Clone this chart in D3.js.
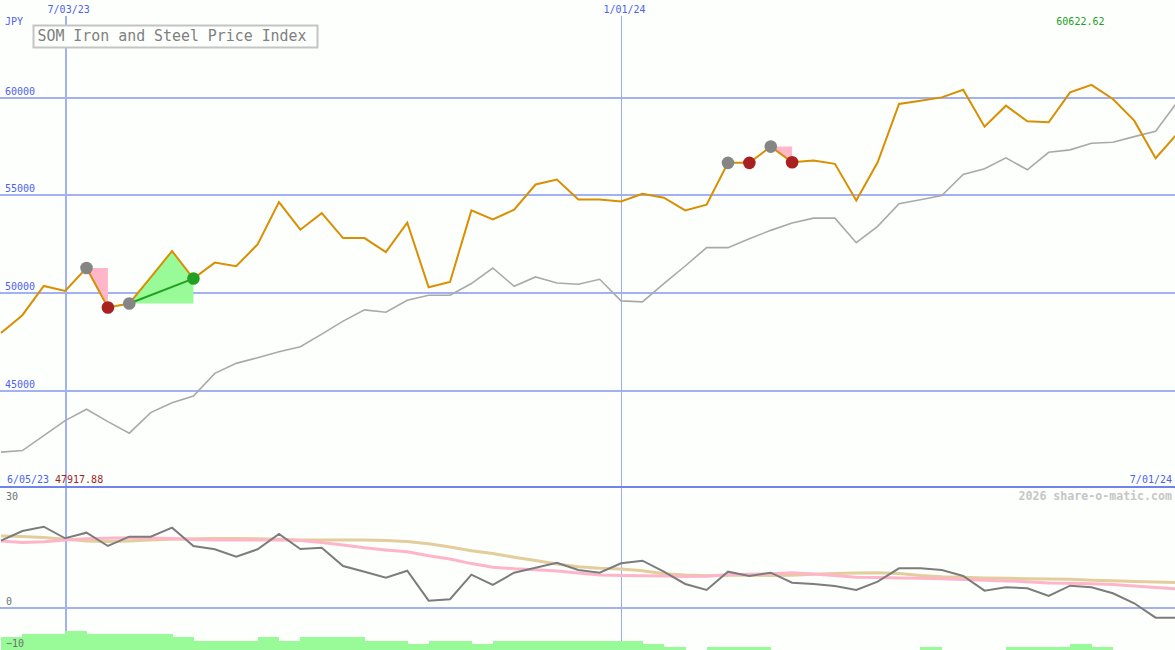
<!DOCTYPE html>
<html><head><meta charset="utf-8">
<script src="https://cdn.jsdelivr.net/npm/d3@7"></script>
<style>
html,body{margin:0;padding:0;background:#fcfffc;}
svg{display:block;}
text{font-family:"DejaVu Sans Mono",monospace;}
</style>
</head><body>
<svg id="c" width="1175" height="650"></svg>
<script>
// ---------- data ----------
const dates = [
 "2023-06-12","2023-06-19","2023-06-26","2023-07-03","2023-07-10","2023-07-17","2023-07-24","2023-07-31",
 "2023-08-07","2023-08-14","2023-08-21","2023-08-28","2023-09-04","2023-09-11","2023-09-18","2023-09-25",
 "2023-10-02","2023-10-09","2023-10-16","2023-10-23","2023-10-30","2023-11-06","2023-11-13","2023-11-20",
 "2023-11-27","2023-12-04","2023-12-11","2023-12-18","2023-12-25","2024-01-01","2024-01-08","2024-01-15",
 "2024-01-22","2024-01-29","2024-02-05","2024-02-12","2024-02-19","2024-02-26","2024-03-04","2024-03-11",
 "2024-03-18","2024-03-25","2024-04-01","2024-04-08","2024-04-15","2024-04-22","2024-04-29","2024-05-06",
 "2024-05-13","2024-05-20","2024-05-27","2024-06-03","2024-06-10","2024-06-17","2024-06-24","2024-07-01"];

const priceIndex = [47917.88,48830,50327,50072,51246,49224,49428,50771,52114,50705,51522,51333,52457,54617,53207,54055,
 52778,52778,52063,53565,50260,50531,54193,53733,54229,55521,55776,54755,54755,54653,55046,54842,54193,54484,
 56629,56629,57462,56660,56747,56578,54704,56660,59642,59811,59980,60373,58483,59556,58754,58703,60235,60622.62,
 59898,58790,56864,58110];

const movingAvg = [41818,41900,42666,43432,44014,43381,42789,43841,44351,44694,45853,46364,46650,46956,47211,47860,
 48524,49101,48984,49597,49852,49852,50449,51246,50312,50787,50480,50414,50669,49561,49510,50449,51348,52288,
 52288,52748,53172,53545,53800,53800,52543,53376,54535,54740,54959,56032,56323,56884,56272,57171,57293,57630,
 57681,57972,58243,59724];

const oscMain = [17.95,20.55,21.70,18.59,20.09,16.53,19.02,19.02,21.43,16.53,15.64,13.66,15.64,19.74,15.72,16.07,
 11.17,9.64,8.04,9.91,1.88,2.25,8.84,6.08,9.38,10.72,12.05,10.10,9.38,11.89,12.59,9.64,6.35,4.74,9.64,8.49,
 9.38,6.70,6.35,5.81,4.74,6.97,10.55,10.55,10.10,8.49,4.55,5.46,5.20,3.13,5.89,5.46,3.86,1.18,-2.68,-2.68];

const oscPink = [17.87,17.47,17.68,18.14,18.46,18.62,18.75,18.70,18.51,18.27,18.14,18.14,18.14,18.14,17.97,17.47,
 16.80,16.05,15.46,14.97,13.90,13.05,11.81,10.82,10.42,10.15,9.83,9.32,8.76,8.63,8.55,8.49,8.38,8.44,8.84,8.95,
 9.08,9.38,9.03,8.60,8.14,8.09,7.98,7.88,7.77,7.55,7.34,7.18,6.97,6.64,6.56,6.38,6.19,5.81,5.38,5.01];

const oscTan = [19.21,19.10,18.80,18.35,17.84,17.71,17.87,18.14,18.32,18.46,18.56,18.56,18.46,18.32,18.14,18.14,
 18.14,18.14,18.03,17.76,17.12,16.26,15.27,14.49,13.53,12.62,11.71,10.98,10.55,10.39,9.91,9.11,8.76,8.55,8.71,
 8.76,8.60,8.68,8.97,9.14,9.30,9.35,9.14,8.63,8.30,8.14,7.98,7.88,7.77,7.69,7.61,7.37,7.21,7.02,6.86,6.70];

const histBars = [4,5,5,6,5,5,5,5,4,3,3,3,4,3,4,4,4,3,3,2,3,3,2,3,3,3,3,3,3,3,2,1,0,1,1,1,0,0,0,0,0,0,0,1,0,0,0,1,1,1,2,1,0,0,0,0];

const priceTicks = [45000,50000,55000,60000];
const oscTicks = [30,0,-10];
const dateTicks = ["2023-07-03","2024-01-01"];
const dateTickLabels = ["7/03/23","1/01/24"];

const greyMarks = [4,6,34,36];
const redMarks = [5,35,37];
const greenMarks = [9];
const pinkFills = [[4,5],[36,37]];
const greenFills = [[6,9]];
const greenLinks = [[6,9]];

const titleText = "SOM Iron and Steel Price Index";
const currency = "JPY";
const startLabel = "6/05/23", endLabel = "7/01/24";
const minLabel = "47917.88", maxLabel = "60622.62";
const credit = "2026 share-o-matic.com";

// ---------- scales ----------
const parse = d3.timeParse("%Y-%m-%d");
const D = dates.map(parse);
const x = d3.scaleTime().domain([D[0], D[D.length-1]]).range([1, 1177]);
const y = d3.scaleLinear().domain([45000,60000]).range([390,97]);
const y2 = d3.scaleLinear().domain([-10,30]).range([645,495.7]);
const yb = d3.scaleLinear().domain([0,6]).range([650,631]);
const step = x(D[1]) - x(D[0]);

const svg = d3.select("#c");
svg.append("rect").attr("width",1175).attr("height",650).attr("fill","#fcfffc");

const gridCol = "#a3b1f2", blueTxt = "#4f62ec";

// horizontal price grid via axis
const gy = svg.append("g").call(d3.axisRight(y).tickValues(priceTicks).tickSize(1175).tickFormat(d3.format("d")));
gy.select(".domain").remove();
gy.selectAll("line").attr("stroke",gridCol).attr("stroke-width",2).attr("shape-rendering","crispEdges");
gy.selectAll("text").attr("x",5).attr("dy",null).attr("y",-3).attr("text-anchor","start")
  .attr("fill",blueTxt).style("font-size","10px").style("font-family","DejaVu Sans Mono");

// lower panel zero line (labels drawn later)
const g2 = svg.append("g").call(d3.axisRight(y2).tickValues(oscTicks).tickSize(1175).tickFormat(d3.format("d")));
g2.select(".domain").remove();
g2.selectAll("line").attr("stroke",d => d===0 ? gridCol : "none").attr("stroke-width",2).attr("shape-rendering","crispEdges");
g2.selectAll("text").remove();

// vertical date grid via axis
const gx = svg.append("g").attr("transform","translate(0,16)")
  .call(d3.axisTop(x).tickValues(dateTicks.map(parse)).tickSize(-634).tickFormat((d,i)=>dateTickLabels[i]));
gx.select(".domain").remove();
gx.selectAll("line").attr("stroke",(d,i)=> i===0 ? gridCol : "#9badf2").attr("stroke-width",(d,i)=> i===0 ? 2 : 1).attr("shape-rendering","crispEdges");
gx.selectAll("text").attr("y",-3).attr("dx",3).attr("fill",blueTxt).style("font-size","10px").style("font-family","DejaVu Sans Mono");

// histogram bars
svg.append("g").selectAll("rect").data(histBars).join("rect")
  .attr("x",(d,i)=>x(D[i])).attr("width",step+0.5)
  .attr("y",d=>yb(d)).attr("height",d=>yb(0)-yb(d))
  .attr("fill","#98fb98").attr("shape-rendering","crispEdges");

// lower panel tick labels, via axis, on top of bars
const g2t = svg.append("g").call(d3.axisRight(y2).tickValues(oscTicks).tickSize(0).tickFormat(d3.format("d")));
g2t.select(".domain").remove();
g2t.selectAll("text").attr("x",6).attr("dy",null).attr("y",d => d===30 ? 4 : (d===0 ? -3 : 1))
  .attr("text-anchor","start").attr("fill","#707070").style("font-size","10px").style("font-family","DejaVu Sans Mono");

// separator
svg.append("line").attr("x1",0).attr("x2",1175).attr("y1",487).attr("y2",487)
  .attr("stroke","#7183ea").attr("stroke-width",2).attr("shape-rendering","crispEdges");

// lower panel lines
const lo = (arr) => d3.line().x((d,i)=>x(D[i])).y(d=>y2(d))(arr);
svg.append("path").attr("d",lo(oscTan)).attr("fill","none").attr("stroke","#e4cd9c").attr("stroke-width",3);
svg.append("path").attr("d",lo(oscPink)).attr("fill","none").attr("stroke","#ffb5c9").attr("stroke-width",3);
svg.append("path").attr("d",lo(oscMain)).attr("fill","none").attr("stroke","#7c7c7c").attr("stroke-width",2);

// main panel
const line = d3.line().x((d,i)=>x(D[i])).y(d=>y(d));
svg.append("path").attr("d",line(movingAvg)).attr("fill","none").attr("stroke","#a9a9a9").attr("stroke-width",1.6);

// fills
function fillPts([a,b]){
  const pts = [];
  for(let i=a;i<=b;i++) pts.push([x(D[i]), y(priceIndex[i])]);
  pts.push([x(D[b]), y(priceIndex[a])]);
  return pts;
}
svg.append("g").selectAll("polygon").data(pinkFills).join("polygon")
  .attr("points",d=>fillPts(d).join(" ")).attr("fill","#ffb6c9");
svg.append("g").selectAll("polygon").data(greenFills).join("polygon")
  .attr("points",d=>fillPts(d).join(" ")).attr("fill","#98fb98");

svg.append("path").attr("d",line(priceIndex)).attr("fill","none").attr("stroke","#d88f02").attr("stroke-width",2);

svg.append("g").selectAll("line").data(greenLinks).join("line")
  .attr("x1",d=>x(D[d[0]])).attr("y1",d=>y(priceIndex[d[0]]))
  .attr("x2",d=>x(D[d[1]])).attr("y2",d=>y(priceIndex[d[1]]))
  .attr("stroke","#22a022").attr("stroke-width",2);

function marks(idx, col){
  svg.append("g").selectAll("circle").data(idx).join("circle")
    .attr("cx",i=>x(D[i])).attr("cy",i=>y(priceIndex[i])).attr("r",6.3).attr("fill",col);
}
marks(greyMarks,"#858585");
marks(redMarks,"#a82020");
marks(greenMarks,"#23a023");

// title box
svg.append("rect").attr("x",33.5).attr("y",25.5).attr("width",284).attr("height",22)
  .attr("fill","#fcfffc").attr("stroke","#c4c4c4").attr("stroke-width",2);
svg.append("text").attr("x",37.5).attr("y",41).attr("fill","#808080")
  .attr("textLength",269).attr("lengthAdjust","spacingAndGlyphs")
  .style("font-size","15px").text(titleText);

// text labels
const t = (xx,yy,txt,col,opts={}) => svg.append("text").attr("x",xx).attr("y",yy).attr("fill",col)
  .attr("text-anchor",opts.anchor||"start").style("font-size",(opts.size||10)+"px")
  .style("font-weight",opts.weight||"normal").text(txt);
t(5,25,currency,blueTxt);
t(1104.5,25,maxLabel,"#1f9e1f",{anchor:"end"});
t(7,483,startLabel,blueTxt);
t(55,483,minLabel,"#a31f1f");
t(1172,483,endLabel,blueTxt,{anchor:"end"});
t(1172,500,credit,"#c6c6c6",{anchor:"end",size:11.6,weight:"bold"});
</script>
</body></html>
